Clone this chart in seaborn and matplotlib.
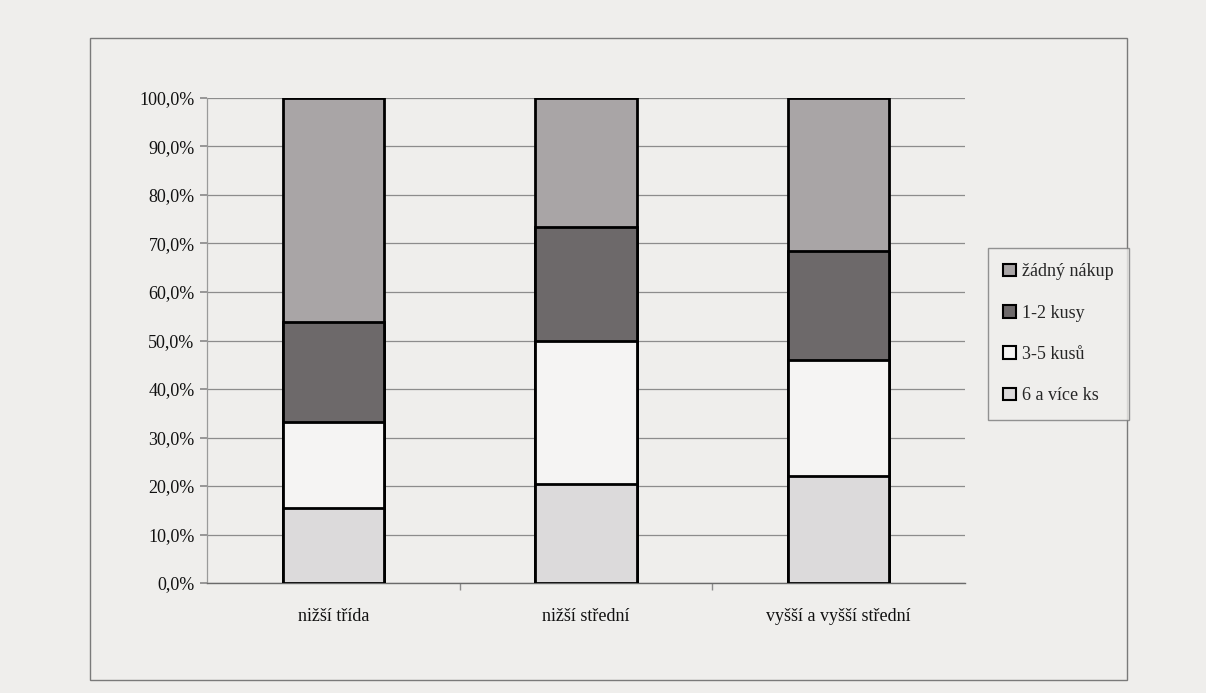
import matplotlib
matplotlib.use("Agg")
import matplotlib.pyplot as plt
import seaborn as sns
import pandas as pd
import numpy as np
from matplotlib.patches import Rectangle, Patch
from matplotlib.ticker import FuncFormatter, FixedLocator

categories = ["nižší třída", "nižší střední", "vyšší a vyšší střední"]
series_names = ["žádný nákup", "1-2 kusy", "3-5 kusů", "6 a více ks"]
zadny_nakup = [46.2, 26.6, 31.5]
kusy_1_2 = [20.7, 23.5, 22.5]
kusy_3_5 = [17.7, 29.5, 24.0]
kusy_6_vice = [15.4, 20.4, 22.0]
y_ticks = [0, 10, 20, 30, 40, 50, 60, 70, 80, 90, 100]

colors = {"žádný nákup": "#a9a5a6", "1-2 kusy": "#6d696a",
          "3-5 kusů": "#f5f4f3", "6 a více ks": "#dcdadb"}

sns.set_theme(style="white")
plt.rcParams['font.family'] = ['Liberation Serif', 'DejaVu Serif']

paper = "#efeeec"
fig = plt.figure(figsize=(12.06, 6.93), dpi=100, facecolor=paper)
ax = fig.add_axes([207/1206, 1-583/693, (965-207)/1206, (583-98)/693])
ax.set_facecolor(paper)

# stack bottom-up: 6+, 3-5, 1-2, none
stack_order = ["6 a více ks", "3-5 kusů", "1-2 kusy", "žádný nákup"]
vals = {"žádný nákup": zadny_nakup, "1-2 kusy": kusy_1_2,
        "3-5 kusů": kusy_3_5, "6 a více ks": kusy_6_vice}
cum = np.zeros(len(categories))
cums = {}
for s in stack_order:
    cum = cum + np.array(vals[s])
    cums[s] = cum.copy()

# draw tallest first so lower segments overlay
for s in reversed(stack_order):
    df = pd.DataFrame({"kategorie": categories, "hodnota": cums[s]})
    sns.barplot(data=df, x="kategorie", y="hodnota", color=colors[s],
                edgecolor="black", linewidth=2.0, width=0.4, ax=ax,
                saturation=1, zorder=3)

ax.set_ylim(0, 100)
ax.set_xlim(-0.5, 2.5)
ax.yaxis.set_major_locator(FixedLocator(y_ticks))
ax.yaxis.set_major_formatter(FuncFormatter(lambda v, p: f"{v:.1f}".replace(".", ",") + "%"))
ax.grid(axis="y", color="#8c8c8c", linewidth=0.9, zorder=0)
ax.set_axisbelow(True)
for sp in ["top", "right"]:
    ax.spines[sp].set_visible(False)
ax.spines["left"].set_color("#9a9a9a")
ax.spines["left"].set_linewidth(0.9)
ax.spines["bottom"].set_color("#6a6a6a")
ax.spines["bottom"].set_linewidth(1.0)
ax.set_xlabel("")
ax.set_ylabel("")
ax.tick_params(axis="y", labelsize=13, length=5, color="#8c8c8c", left=True, pad=4, labelcolor="#111111")
ax.tick_params(axis="x", labelsize=13, length=0, pad=18, labelcolor="#111111")
ax.xaxis.set_minor_locator(FixedLocator([0.5, 1.5]))
ax.tick_params(axis="x", which="minor", length=5, color="#8c8c8c", bottom=True)

# chart frame
fig.patches.append(Rectangle((90/1206, 1-680/693), (1127-90)/1206, (680-38)/693,
                             transform=fig.transFigure, fill=False,
                             edgecolor="#7a7a7a", linewidth=1.0))

handles = [Patch(facecolor=colors[s], edgecolor="black", linewidth=1.5, label=s)
           for s in series_names]
leg = fig.legend(handles=handles, loc="upper left",
                 bbox_to_anchor=(988/1206, 1-248/693), fontsize=13,
                 frameon=True, fancybox=False, edgecolor="#7a7a7a",
                 facecolor=paper, handlelength=0.7, handleheight=0.7,
                 handletextpad=0.35, labelspacing=1.35, borderpad=0.85,
                 borderaxespad=0)
leg.get_frame().set_linewidth(1.0)

fig.savefig("out.png", dpi=100, facecolor=paper)
